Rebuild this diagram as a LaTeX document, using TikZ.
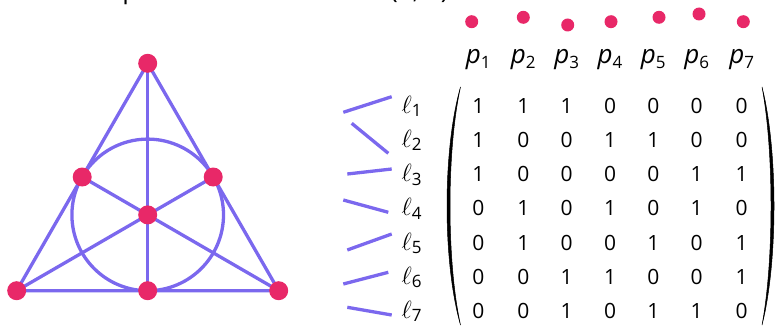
\documentclass[tikz,border=0pt]{standalone}
\usepackage{fontspec}
\setmainfont{Open Sans}
\definecolor{lineblue}{RGB}{123,104,238}
\definecolor{dotred}{RGB}{232,40,104}
\newcommand\plab[1]{{\fontsize{26}{26}\selectfont\itshape p}\raisebox{-5pt}{\fontsize{17}{17}\selectfont #1}}
\newcommand\llab[1]{{\fontsize{26}{26}\selectfont$\ell$}\raisebox{-3.4pt}{\fontsize{17}{17}\selectfont #1}}
\begin{document}
\begin{tikzpicture}[x=1pt,y=-1pt,
  fano/.style={draw=lineblue,line width=3.3pt},
  bigdot/.style={circle,fill=dotred,inner sep=0pt,minimum size=19pt},
  smalldot/.style={circle,fill=dotred,inner sep=0pt,minimum size=13pt},
  lineicon/.style={draw=lineblue,line width=3.3pt},
  entry/.style={anchor=base,inner sep=0pt,font=\fontsize{21}{21}\selectfont},
  lab/.style={anchor=base,inner sep=0pt},
  paren/.style={fill=black,draw=black,line width=0.5pt},
  title/.style={anchor=base west,inner sep=0pt,font=\fontsize{26}{26}\selectfont}]
\useasboundingbox (0,0) rectangle (775,326);
% title (cut off at the top)
\node[title] (t1) at (56,-1) {Fano plane};
\node[title] (t2) at (390,-1) {(7, 3)};
% Fano plane
\coordinate (A) at (147.7,63.3);
\coordinate (B) at (16.7,290.7);
\coordinate (C) at (278.7,290.7);
\coordinate (D) at (147.7,290.7);
\coordinate (E) at (82.2,177);
\coordinate (F) at (213.2,177);
\coordinate (G) at (147.7,214.9);
\draw[fano] (G) circle[radius=75.8pt];
\draw[fano] (A) -- (B) -- (C) -- cycle;
\draw[fano] (A) -- (D);
\draw[fano] (B) -- (F);
\draw[fano] (C) -- (E);
\foreach \v in {A,B,C,D,E,F,G} \node[bigdot] (d\v) at (\v) {};
% points along the top
\node[smalldot] (q1) at (471.7,21.7) {};
\node[smalldot] (q2) at (523.3,17.3) {};
\node[smalldot] (q3) at (567.7,25) {};
\node[smalldot] (q4) at (611,21.7) {};
\node[smalldot] (q5) at (659,17.3) {};
\node[smalldot] (q6) at (699,14) {};
\node[smalldot] (q7) at (743.3,21.7) {};
% column labels
\foreach \i/\x in {1/478.3,2/523.3,3/566.7,4/610,5/653.3,6/696.7,7/741.7}
  \node[lab] (p\i) at (\x,63.3) {\plab{\i}};
% line icons
\coordinate (a1) at (343.3,112.3); \coordinate (b1) at (391.7,96.7);
\coordinate (a2) at (351.7,123.3); \coordinate (b2) at (388.3,153.3);
\coordinate (a3) at (347.3,174);   \coordinate (b3) at (391.7,169);
\coordinate (a4) at (343.3,200);   \coordinate (b4) at (388.3,212.3);
\coordinate (a5) at (347.3,250);   \coordinate (b5) at (391.7,234);
\coordinate (a6) at (343.3,284);   \coordinate (b6) at (388.3,272.3);
\coordinate (a7) at (347.3,307.3); \coordinate (b7) at (391.7,315);
\foreach \i in {1,...,7} \draw[lineicon] (a\i) -- (b\i);
% row labels
\foreach \i in {1,...,7}
  \node[lab,anchor=base west] (l\i) at (401.5,{113.3+34.2*(\i-1)}) {\llab{\i}};
% matrix
\foreach \row [count=\r] in {{1,1,1,0,0,0,0},{1,0,0,1,1,0,0},{1,0,0,0,0,1,1},{0,1,0,1,0,1,0},{0,1,0,0,1,0,1},{0,0,1,1,0,0,1},{0,0,1,0,1,1,0}}
  \foreach \e [count=\c] in \row {
    \pgfmathsetmacro\xx{{478.3,523.3,566.7,610,653.3,696.7,741.7}[\c-1]}
    \node[entry] (m\r\c) at (\xx,{113.3+34.2*(\r-1)}) {\e};
  }
% parentheses
\fill[paren] (460.5,87) .. controls (442.5,150) and (442.5,262) .. (460.5,325)
  .. controls (446.5,262) and (446.5,150) .. (460.5,87) -- cycle;
\fill[paren] (762,87) .. controls (778,150) and (778,262) .. (762,325)
  .. controls (774,262) and (774,150) .. (762,87) -- cycle;
\end{tikzpicture}
\end{document}
